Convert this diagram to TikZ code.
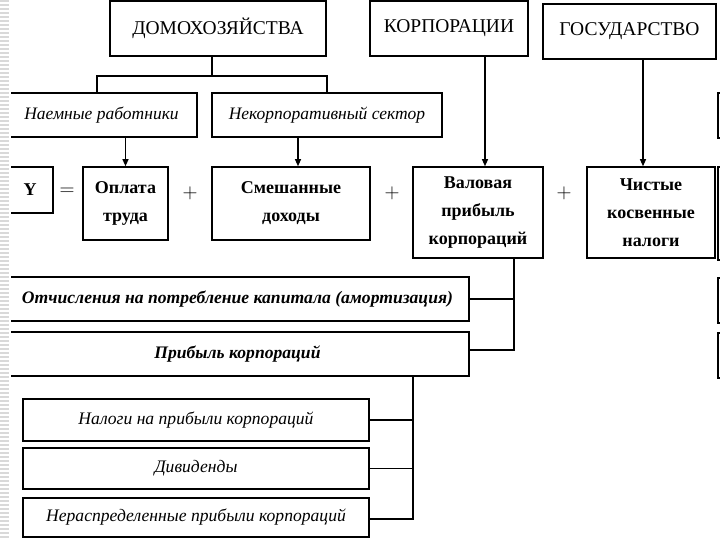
\documentclass[tikz,border=0pt]{standalone}
\usepackage{fontspec}
\setmainfont{Liberation Serif}
\usetikzlibrary{arrows.meta}
\tikzset{
    sector/.style={draw, line width=2.2pt, inner sep=0pt, font=\fontsize{19.5}{21}\selectfont},
    group/.style={draw, line width=1.6pt, inner sep=0pt, font=\itshape\fontsize{17.5}{19}\selectfont},
    part/.style={draw, line width=1.6pt, inner sep=0pt, align=center, font=\bfseries\fontsize{18}{28}\selectfont},
    share/.style={draw, line width=1.6pt, inner sep=0pt, font=\bfseries\itshape\fontsize{17.6}{19}\selectfont},
    use/.style={draw, line width=1.6pt, inner sep=0pt, font=\itshape\fontsize{17.6}{19}\selectfont},
    sign/.style={inner sep=0pt, font=\fontsize{22}{22}\selectfont},
    link/.style={line width=1.1pt},
    arr/.style={line width=1.1pt, -{Triangle[length=7pt,width=6pt]}}
}
\begin{document}
\begin{tikzpicture}[x=1pt,y=-1pt]
                \useasboundingbox (0,0) rectangle (720,540);

                \node[sector, minimum width=216, minimum height=55] (house) at (218,28.5) {ДОМОХОЗЯЙСТВА};
                \node[sector, minimum width=158, minimum height=55] (corp) at (449,28.5) {КОРПОРАЦИИ};
                \node[sector, minimum width=173, minimum height=55] (gov) at (629.5,31.5) {ГОСУДАРСТВО};

                \node[group, minimum width=191, minimum height=44] (hired) at (101.5,115) {Наемные работники};
                \node[group, minimum width=230, minimum height=44] (noncorp) at (327,115) {Некорпоративный сектор};

                \node[part, minimum width=46, minimum height=46] (y) at (30,190) {Y};
                \node[sign] (eq) at (67,192) {$=$};
                \node[part, minimum width=85, minimum height=73] (pay) at (125.5,203.5) {Оплата\\труда};
                \node[sign] (plusa) at (190,193) {$+$};
                \node[part, minimum width=158, minimum height=73] (mixed) at (291,203.5) {Смешанные\\доходы};
                \node[sign] (plusb) at (392,193) {$+$};
                \node[part, minimum width=130, minimum height=91] (gross) at (478,212.5) {Валовая\\прибыль\\корпораций};
                \node[sign] (plusc) at (564,193) {$+$};
                \node[part, minimum width=128, minimum height=91] (tax) at (651,212.5) {Чистые\\косвенные\\налоги};

                \node[share, minimum width=463, minimum height=44] (deprec) at (237.5,299) {Отчисления на потребление капитала (амортизация)};
                \node[share, minimum width=463, minimum height=44] (profit) at (237.5,354) {Прибыль корпораций};

                \node[use, minimum width=346, minimum height=42] (ptax) at (196,420) {Налоги на прибыли корпораций};
                \node[use, minimum width=346, minimum height=41] (divid) at (196,468.5) {Дивиденды};
                \node[use, minimum width=346, minimum height=39] (kept) at (196,517.5) {Нераспределенные прибыли корпораций};

                % boxes cut off at the right edge of the slide
                \node[group, minimum width=42, minimum height=45] (resta) at (739,115.5) {};
                \node[group, minimum width=42, minimum height=93] (restb) at (739,213.5) {};
                \node[group, minimum width=42, minimum height=45] (restc) at (739,300.5) {};
                \node[group, minimum width=42, minimum height=45] (restd) at (739,355.5) {};

                \coordinate (hmid) at (212,76);
                \coordinate (hleft) at (97,76);
                \coordinate (hright) at (327,76);
                \draw[link] (house.south -| hmid) -- (hmid);
                \draw[link] (hired.north -| hleft) -- (hleft) -- (hright) -- (noncorp.north);

                \draw[arr] (hired.south -| pay.north) -- (pay.north);
                \draw[arr] ([xshift=7]noncorp.south -| mixed.north) -- ([xshift=7]mixed.north);
                \draw[arr] ([xshift=7]gross.north |- corp.south) -- ([xshift=7]gross.north);
                \draw[arr] ([xshift=-8]tax.north |- gov.south) -- ([xshift=-8]tax.north);

                \coordinate (gfoot) at (514,350);
                \draw[link] (gross.south -| gfoot) -- (gfoot) -- (profit.east |- gfoot);
                \draw[link] (deprec.east) -- (deprec.east -| gfoot);

                \coordinate (pfoot) at (413,519);
                \draw[link] (profit.south -| pfoot) -- (pfoot) -- (kept.east |- pfoot);
                \draw[link] (ptax.east) -- (ptax.east -| pfoot);
                \draw[link] (divid.east) -- (divid.east -| pfoot);

                % striped slide margin
                \fill[white] (0,0) rectangle (11,540);
                \foreach \s in {1,5,...,540}
                    \draw[gray!30, line width=1.6pt] (0,\s) -- (9,\s);
            \end{tikzpicture}
\end{document}
